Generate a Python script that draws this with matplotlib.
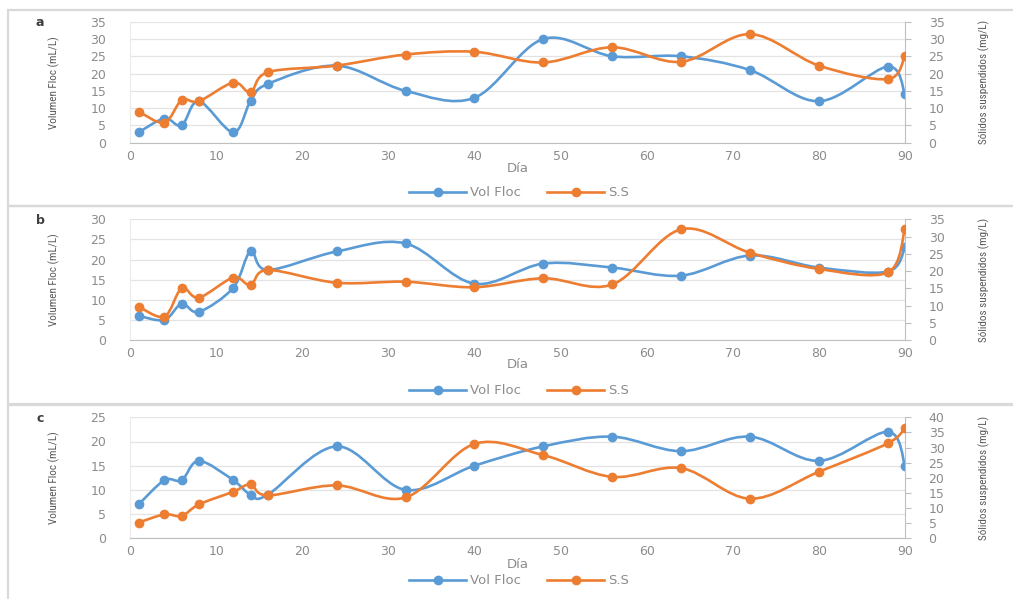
import numpy as np
import matplotlib
matplotlib.use("Agg")
import matplotlib.pyplot as plt
from matplotlib.path import Path
from matplotlib.patches import PathPatch, Rectangle
from matplotlib.lines import Line2D
from matplotlib import font_manager

# Sampling days (shared by all three runs)
dias = [1, 4, 6, 8, 12, 14, 16, 24, 32, 40, 48, 56, 64, 72, 80, 88, 90]

# Run a
vol_a = [3, 7, 5, 12, 3, 12, 17, 22.3, 15, 13, 30, 25, 25, 21, 12, 22, 14]
ss_a = [9, 5.8, 12.3, 12, 17.4, 14.6, 20.4, 22.3, 25.5, 26.3, 23.2, 27.6, 23.4, 31.4, 22.3, 18.4, 25.2]

# Run b
vol_b = [6, 5, 9, 7, 13, 22, 17.4, 22, 24, 14, 19, 18, 16, 21, 18, 17, 23]
ss_b = [9.7, 6.8, 15, 12.3, 18.1, 15.9, 20.3, 16.6, 16.9, 15.3, 17.9, 16.1, 32.1, 25.3, 20.6, 19.6, 32.3]

# Run c
vol_c = [7, 12, 12, 16, 12, 9, 9, 19, 10, 15, 19, 21, 18, 21, 16, 22, 15]
ss_c = [5.2, 7.9, 7.4, 11.2, 15.4, 17.8, 14.2, 17.5, 13.5, 31.2, 27.5, 20.3, 23.2, 13.1, 22, 31.4, 36.5]

panel_labels = ["a", "b", "c"]
left_max = [35, 30, 25]
right_max = [35, 35, 40]
x_ticks = list(range(0, 91, 10))

BLUE = "#5B9BD5"
ORANGE = "#ED7D31"
TICK_C = "#8C8C8C"
LABEL_C = "#595959"
GRID_C = "#E3E3E3"
FRAME_C = "#D9D9D9"

W, H = 1013, 599
fig = plt.figure(figsize=(W / 100, H / 100), dpi=100)
fig.patch.set_facecolor("white")

# pick the narrowest installed sans family for the axis titles
installed = {f.name for f in font_manager.fontManager.ttflist}
narrow = [f for f in ["Liberation Sans Narrow", "Roboto Condensed",
                      "Open Sans Condensed", "Liberation Sans"] if f in installed]
narrow = narrow[:1] + ["DejaVu Sans"]


def fx(px):
    return px / W


def fy(py):
    return 1 - py / H


def smooth_path(x, y):
    """Cubic Bezier path through the points (smoothed line style)."""
    pts = np.column_stack([x, y]).astype(float)
    n = len(pts)
    verts = [pts[0]]
    codes = [Path.MOVETO]
    for i in range(n - 1):
        p0 = pts[i - 1] if i > 0 else pts[i]
        p1 = pts[i]
        p2 = pts[i + 1]
        p3 = pts[i + 2] if i + 2 < n else pts[i + 1]
        c1 = p1 + (p2 - p0) / 6.0
        c2 = p2 - (p3 - p1) / 6.0
        verts += [c1, c2, p2]
        codes += [Path.CURVE4] * 3
    return Path(verts, codes)


def draw_series(ax, x, y, color):
    patch = PathPatch(smooth_path(x, y), facecolor="none", edgecolor=color,
                      lw=1.9, transform=ax.transData, capstyle="round",
                      joinstyle="round", zorder=3)
    ax.add_patch(patch)
    ax.plot(x, y, ls="none", marker="o", ms=6, color=color, zorder=4)


# pixel layout of each panel: (frame top, frame bottom, axes top, axes bottom,
#                               'Día' y, legend y)
layout = [
    (10, 206, 21.7, 142.7, 168, 193),
    (206, 404, 219.3, 340.0, 365, 391),
    (405, 620, 417.3, 538.3, 564, 581),
]
series = [(vol_a, ss_a), (vol_b, ss_b), (vol_c, ss_c)]

x0, x1 = 130, 905

for k, ((ftop, fbot, atop, abot, dia_y, leg_y), (vol, ss)) in enumerate(zip(layout, series)):
    # panel frame
    fig.add_artist(Rectangle((fx(8), fy(fbot)), fx(1100), fy(ftop) - fy(fbot),
                             transform=fig.transFigure, facecolor="none",
                             edgecolor=FRAME_C, lw=1.6, zorder=0))

    ax = fig.add_axes([fx(x0), fy(abot), fx(x1 - x0), fy(atop) - fy(abot)])
    ax.set_xlim(0, 90)
    ax.set_ylim(0, left_max[k])
    ax.set_xticks(x_ticks)
    ax.set_yticks(np.arange(0, left_max[k] + 1, 5))
    ax.grid(axis="y", color=GRID_C, lw=0.9)
    ax.set_axisbelow(True)
    ax.spines["top"].set_visible(False)
    ax.spines["left"].set_color("#EBEBEB")
    ax.spines["bottom"].set_color("#BFBFBF")
    ax.spines["right"].set_visible(False)
    ax.tick_params(axis="y", length=0, pad=17, labelsize=9, labelcolor=TICK_C)
    ax.tick_params(axis="x", length=0, pad=5, labelsize=9, labelcolor=TICK_C)
    ax.set_ylabel("Volumen Floc (mL/L)", family=narrow, fontsize=8, color=LABEL_C)
    ax.yaxis.set_label_coords((60 - x0) / (x1 - x0), 0.5)

    ax2 = ax.twinx()
    ax2.set_ylim(0, right_max[k])
    ax2.set_yticks(np.arange(0, right_max[k] + 1, 5))
    for s in ["top", "left", "bottom"]:
        ax2.spines[s].set_visible(False)
    ax2.spines["right"].set_color("#BFBFBF")
    ax2.tick_params(axis="y", length=4, width=0.8, color="#BFBFBF", pad=13,
                    labelsize=9, labelcolor=TICK_C)
    ax2.set_ylabel("Sólidos suspendidos (mg/L)", family=narrow, fontsize=8,
                   color=LABEL_C)
    ax2.yaxis.set_label_coords((978 - x0) / (x1 - x0), 0.5)

    draw_series(ax, dias, vol, BLUE)
    draw_series(ax2, dias, ss, ORANGE)

    fig.text(fx(40), fy(atop + 1), panel_labels[k], fontsize=9, fontweight="bold",
             color="#404040", ha="center", va="center")
    fig.text(fx(518), fy(dia_y), "Día", fontsize=9.5, color=TICK_C,
             ha="center", va="center")

    handles = [
        Line2D([], [], color=BLUE, lw=1.9, marker="o", ms=6),
        Line2D([], [], color=ORANGE, lw=1.9, marker="o", ms=6),
    ]
    leg = fig.legend(handles, ["Vol Floc", "S.S"], loc="center",
                     bbox_to_anchor=(fx(519), fy(leg_y)), ncol=2, frameon=False,
                     fontsize=9.5, handlelength=4.3, columnspacing=2.0,
                     handletextpad=0.3)
    for t in leg.get_texts():
        t.set_color(TICK_C)

fig.savefig("out.png", dpi=100)
